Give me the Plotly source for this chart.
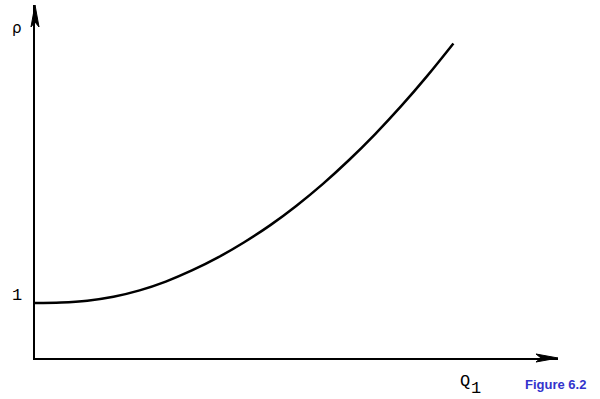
import plotly.graph_objects as go

# Curve rho(Q1)
q1 = [0.0, 0.5, 1.0, 1.5, 2.0, 2.5, 3.0, 3.5, 4.0, 4.5, 5.0, 5.5, 6.0, 6.5, 7.0, 7.5, 8.0]
rho = [1.0, 1.009, 1.042, 1.113, 1.229, 1.389, 1.591, 1.829, 2.105, 2.416, 2.769,
       3.162, 3.595, 4.067, 4.578, 5.129, 5.718]

y_ticks = [1]
y_tick_labels = ["1"]

x_max = 10.0
y_max = 6.418

# plot area in pixels
L, R, T, B = 35, 558, 5, 358
W, H = R - L, B - T


def px(xp, yp):
    """pixel position -> paper coordinates"""
    return (xp - L) / W, (B - yp) / H


fig = go.Figure()
fig.add_trace(go.Scatter(x=q1, y=rho, mode="lines",
                         line=dict(color="black", width=2.5, shape="spline", smoothing=1.0),
                         hoverinfo="skip"))


def path_px(points):
    s = ""
    for i, (xp, yp) in enumerate(points):
        x, y = px(xp, yp)
        s += ("M " if i == 0 else " L ") + f"{x:.5f},{y:.5f}"
    return s + " Z"


# arrowheads (long, narrow, notched) at the axis ends
fig.add_shape(type="path", xref="paper", yref="paper",
              path=path_px([(R, B), (R - 22, B - 4), (R - 17, B), (R - 22, B + 4)]),
              fillcolor="black", line=dict(color="black", width=1), layer="above")
fig.add_shape(type="path", xref="paper", yref="paper",
              path=path_px([(L, T), (L + 4, T + 22), (L, T + 17), (L - 4, T + 22)]),
              fillcolor="black", line=dict(color="black", width=1), layer="above")


def label(xp, yp, text, family, size, color="black"):
    x, y = px(xp, yp)
    fig.add_annotation(x=x, y=y, xref="paper", yref="paper", text=text, showarrow=False,
                       xanchor="center", yanchor="middle",
                       font=dict(family=family, size=size, color=color))


label(17, 28, "ρ", "DejaVu Sans", 15)
label(465, 381, "Q", "Liberation Mono", 17)
label(476, 388, "1", "Liberation Mono", 17)
label(555, 385, "<b>Figure 6.2</b>", "Liberation Sans", 13, "rgb(51,51,204)")

# y tick label(s), drawn slightly above the tick position as in the reference
for v, t in zip(y_ticks, y_tick_labels):
    fig.add_annotation(x=0, y=v, xref="paper", yref="y", text=t, showarrow=False,
                       xanchor="right", yanchor="middle", xshift=-11, yshift=8,
                       font=dict(family="Liberation Mono", size=17, color="black"))

fig.update_layout(
    width=600, height=399,
    margin=dict(l=L, r=600 - R, t=T, b=399 - B),
    paper_bgcolor="white", plot_bgcolor="white",
    showlegend=False,
    xaxis=dict(range=[0, x_max], showgrid=False, zeroline=False,
               showline=True, linewidth=2, linecolor="black",
               showticklabels=False, ticks=""),
    yaxis=dict(range=[0, y_max], showgrid=False, zeroline=False,
               showline=True, linewidth=2, linecolor="black",
               showticklabels=False, ticks=""),
)

fig.write_html("out.html")
